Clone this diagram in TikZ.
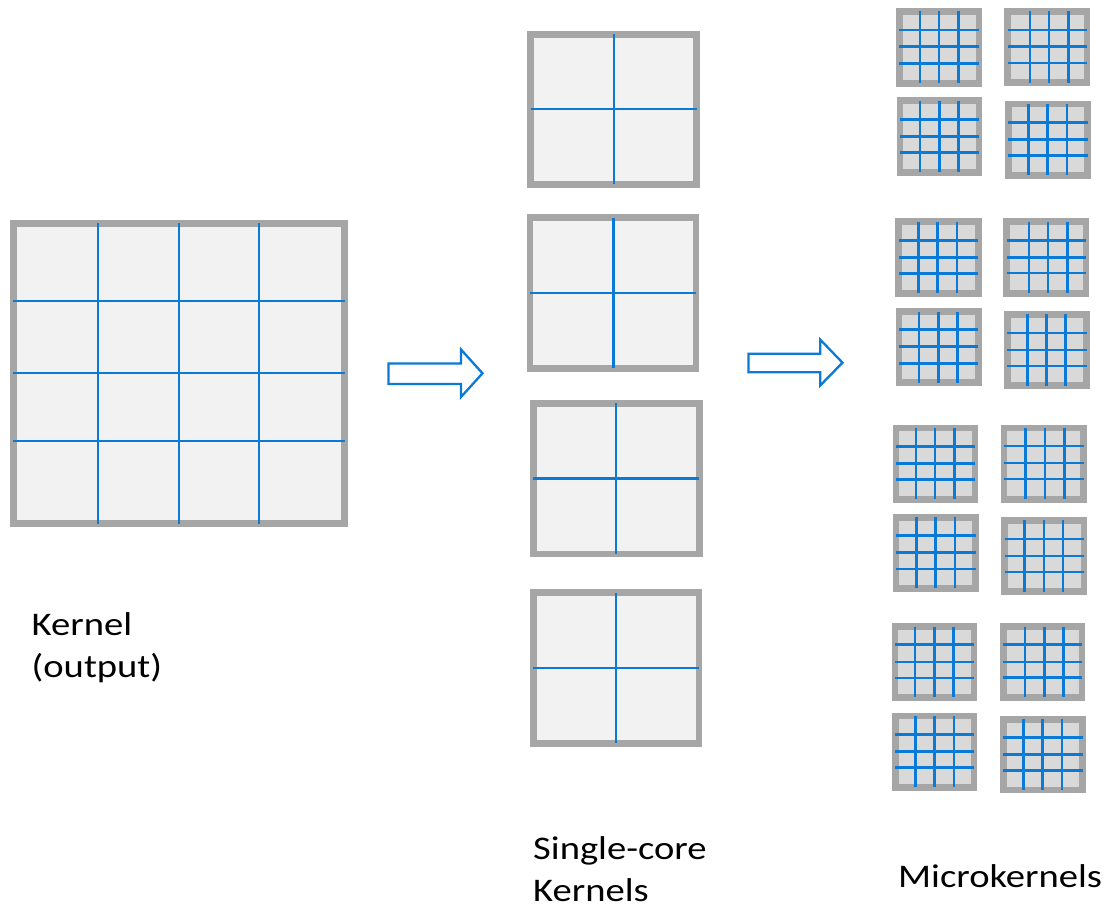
\documentclass[tikz,border=0pt]{standalone}
\usepackage{fontspec}
\usepackage{graphicx}
\newfontfamily\labfont{Carlito}
\definecolor{framegray}{HTML}{A6A6A6}
\definecolor{lightfill}{HTML}{F2F2F2}
\definecolor{microfill}{HTML}{D9D9D9}
\definecolor{gridblue}{HTML}{0A7AD6}
\newcommand\labtext[1]{\scalebox{1.17}[1]{#1}}
% one tile: #1 style, #2..#5 outer edges (x1,y1,x2,y2), #6 column lines, #7 row lines
\newcommand\gridtile[7]{%
  \draw[#1] ({#2+\bw},{#3+\bw}) rectangle ({#4-\bw},{#5-\bw});
  \foreach \v in {#6} \draw[gridline] (\v,{#3+\bw}) -- (\v,{#5-\bw});
  \foreach \h in {#7} \draw[gridline] ({#2+\bw},\h) -- ({#4-\bw},\h);
}
\begin{document}
\begin{tikzpicture}[x=1pt,y=-1pt,
  bigtile/.style={draw=framegray,fill=lightfill,line width=6.8pt},
  coretile/.style={draw=framegray,fill=lightfill,line width=6.7pt},
  microtile/.style={draw=framegray,fill=microfill,line width=6.6pt},
  gridline/.style={draw=gridblue,line width=2pt},
  blockarrow/.style={draw=gridblue,fill=white,line width=2.3pt,line join=miter},
  label/.style={anchor=base west,inner sep=0pt,font=\labfont\fontsize{33}{40}\selectfont}]
\useasboundingbox (0,0) rectangle (1108,912);

% full kernel, 4x4 split
\def\bw{3.4}
\gridtile{bigtile}{10}{220}{348}{527}{98,179,259}{301,373,441}

% single-core kernels, 2x2 split
\def\bw{3.35}
\begin{scope}[gridline/.append style={line width=2.4pt}]
\gridtile{coretile}{527.3}{31}{700}{187.7}{613.7}{109.3}
\gridtile{coretile}{526.7}{214.3}{699.3}{371.7}{613.3}{292.7}
\gridtile{coretile}{530}{400}{702.7}{557.3}{616}{478.3}
\gridtile{coretile}{530}{589.3}{702.3}{746.7}{616}{667.7}
\end{scope}

% microkernels, 4x4 split each
\def\bw{3.3}
\begin{scope}[gridline/.append style={line width=2.7pt}]
\gridtile{microtile}{896}{8}{982.3}{86.7}{920,939,958.3}{30,46.7,63.3}
\gridtile{microtile}{1004.3}{8}{1090.3}{86}{1030,1049,1068.3}{30,46.7,63}
\gridtile{microtile}{896.7}{97.3}{982.3}{175.7}{920,939.3,958.7}{119.7,136.7,152.7}
\gridtile{microtile}{1005}{100.7}{1091}{178.7}{1028.3,1047.7,1067}{122.7,139.3,155.7}
\gridtile{microtile}{895.3}{218.3}{981.7}{296.7}{918.7,937.7,957}{240.7,257.3,273.3}
\gridtile{microtile}{1003.3}{218.3}{1089.3}{296.7}{1029,1048,1067.3}{240.7,257.3,273}
\gridtile{microtile}{895.7}{308.3}{981.7}{386}{919,938.3,957.7}{329.7,346.7,363.3}
\gridtile{microtile}{1004}{311}{1090}{389}{1027.7,1046.7,1065.7}{333,350,366}
\gridtile{microtile}{892.7}{424.7}{978.3}{502.7}{916,935,954.3}{446.7,463.3,479.3}
\gridtile{microtile}{1000.7}{424.7}{1087}{502.7}{1025.7,1045,1064.3}{446,463,479}
\gridtile{microtile}{892.7}{514}{979}{591.7}{916.3,935.3,955}{535.7,552.7,569}
\gridtile{microtile}{1001.3}{517}{1087.3}{595}{1024.7,1044,1063}{539,556,572}
\gridtile{microtile}{891.7}{623.3}{977.3}{700.7}{915,934.3,953.7}{644.7,662,678}
\gridtile{microtile}{1000}{623.3}{1085.3}{700.7}{1025,1044.3,1063.7}{644.7,662,677.7}
\gridtile{microtile}{892}{712.7}{977.3}{790.7}{915.3,934.7,954}{734.3,751.7,767.7}
\gridtile{microtile}{1000}{716}{1086}{793.3}{1023.3,1042.7,1062}{737.3,754.7,770.7}
\end{scope}

% outlined block arrows between the stages
\draw[blockarrow] (388.5,363.5) -- (461,363.5) -- (461,349.5) -- (482.5,373.3)
  -- (461,397) -- (461,384) -- (388.5,384) -- cycle;
\draw[blockarrow] (748.5,353.8) -- (820.3,353.8) -- (820.3,339.7) -- (842.5,362.7)
  -- (820.3,385.4) -- (820.3,372.2) -- (748.5,372.2) -- cycle;

% captions
\node[label] (kernel1) at (31.5,635) {\labtext{Kernel}};
\node[label] (kernel2) at (31.5,677) {\labtext{(output)}};
\node[label] (single1) at (533,859) {\labtext{Single-core}};
\node[label] (single2) at (533,901) {\labtext{Kernels}};
\node[label] (micro) at (898,887) {\labtext{Microkernels}};
\end{tikzpicture}
\end{document}
